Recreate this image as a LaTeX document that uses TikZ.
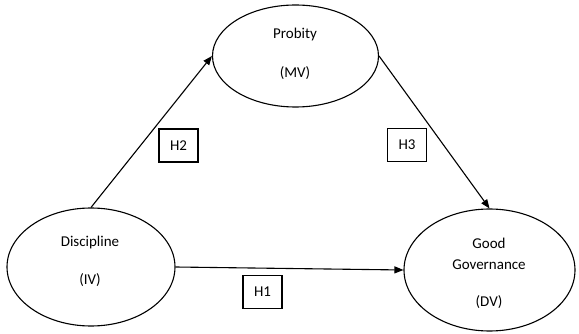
\documentclass[tikz,border=0pt]{standalone}
\usepackage{fontspec}
\setmainfont{Carlito}
\usetikzlibrary{arrows.meta,shapes.geometric}
\begin{document}
\begin{tikzpicture}[x=1pt,y=-1pt,
  oval/.style={draw,ellipse,line width=1.1pt,inner sep=0pt},
  hbox/.style={draw,line width=1.1pt,minimum width=39pt,minimum height=33pt,inner sep=0pt,font=\fontsize{15}{18}\selectfont},
  lbl/.style={font=\fontsize{15}{18}\selectfont,inner sep=0pt},
  arr/.style={line width=1.1pt,-{Triangle[length=9pt,width=7pt]}}]
\useasboundingbox (0,0) rectangle (579,334);
\node[oval,minimum width=166pt,minimum height=102pt] (prob) at (295.5,56) {};
\node[oval,minimum width=168pt,minimum height=118pt] (disc) at (91,267) {};
\node[oval,minimum width=171pt,minimum height=122pt] (gg) at (489.5,270) {};
\node[lbl] (t1) at (295,35) {Probity};
\node[lbl] (t2) at (295,73) {(MV)};
\node[lbl] (t3) at (90,243) {Discipline};
\node[lbl] (t4) at (90,280) {(IV)};
\node[lbl] (t5) at (489,243) {Good};
\node[lbl] (t6) at (489,265) {Governance};
\node[lbl] (t7) at (489,302) {(DV)};
\node[hbox] (h2) at (178.5,145.5) {H2};
\node[hbox] (h3) at (407,145) {H3};
\node[hbox] (h1) at (262.5,292) {H1};
\draw[arr] (disc.north) -- (prob.west);
\draw[arr] (prob.east) -- (gg.north);
\draw[arr] (disc.east) -- (gg.west);
\end{tikzpicture}
\end{document}
